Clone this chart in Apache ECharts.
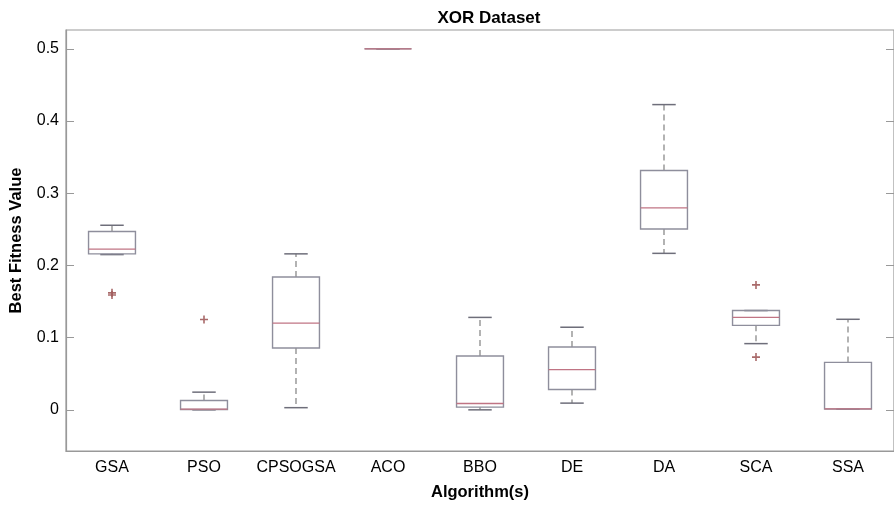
<!DOCTYPE html>
<html>
<head>
<meta charset="utf-8">
<script src="https://cdn.jsdelivr.net/npm/echarts@6/dist/echarts.min.js"></script>
<style>html,body{margin:0;padding:0;background:#fff;}#main{width:894px;height:506px;}</style>
</head>
<body>
<div id="main"></div>
<script>
const categories = ['GSA', 'PSO', 'CPSOGSA', 'ACO', 'BBO', 'DE', 'DA', 'SCA', 'SSA'];
const whiskerLow  = [0.215, 0.0,    0.003,  0.5, 0.0,    0.0093, 0.2167, 0.0917, 0.001];
const q1          = [0.216, 0.0005, 0.0856, 0.5, 0.0037, 0.0282, 0.2505, 0.117,  0.0012];
const median      = [0.2225,0.001,  0.12,   0.5, 0.0088, 0.0556, 0.2796, 0.128,  0.0013];
const q3          = [0.247, 0.013,  0.184,  0.5, 0.0745, 0.087,  0.3315, 0.1375, 0.0657];
const whiskerHigh = [0.2556,0.0245, 0.216,  0.5, 0.128,  0.1144, 0.4227, 0.1375, 0.1254];
const outliers = [[0, 0.159], [0, 0.162], [1, 0.125], [7, 0.173], [7, 0.073]];
const yTicks = [0, 0.1, 0.2, 0.3, 0.4, 0.5];

const boxData = categories.map((c, i) => [i, whiskerLow[i], q1[i], median[i], q3[i], whiskerHigh[i]]);

const BOX = '#8e8e9c';
const MED = '#c07484';
const WHISK = '#8a8a8a';
const CAP = '#6e6e7a';
const OUT = '#a05a5a';
const FONT = '"Liberation Sans", Arial, sans-serif';

const chart = echarts.init(document.getElementById('main'));
chart.setOption({
  animation: false,
  backgroundColor: '#fff',
  title: {
    text: 'XOR Dataset',
    left: 484, top: 5, textAlign: 'center',
    textStyle: { fontFamily: FONT, fontSize: 17, fontWeight: 'bold', color: '#000' }
  },
  grid: { left: 66, top: 30, right: -7, bottom: 55, show: true, borderColor: '#999', borderWidth: 1.2 },
  xAxis: {
    type: 'category', data: categories,
    axisLine: { onZero: false, lineStyle: { color: '#999', width: 1.2 } },
    axisTick: { show: false },
    axisLabel: { color: '#000', fontFamily: FONT, fontSize: 16, margin: 9, interval: 0 },
    name: 'Algorithm(s)', nameLocation: 'middle', nameGap: 33,
    nameTextStyle: { color: '#000', fontFamily: FONT, fontSize: 16.5, fontWeight: 'bold' }
  },
  yAxis: [{
    type: 'value', min: -0.057, max: 0.526,
    axisLine: { show: true, lineStyle: { color: '#999', width: 1.2 } },
    axisTick: { show: true, inside: true, length: 8, lineStyle: { color: '#999' }, customValues: yTicks },
    axisLabel: { color: '#000', fontFamily: FONT, fontSize: 16, margin: 7, customValues: yTicks },
    splitLine: { show: false },
    name: 'Best Fitness Value', nameLocation: 'middle', nameGap: 41,
    nameTextStyle: { color: '#000', fontFamily: FONT, fontSize: 16.5, fontWeight: 'bold' }
  }, {
    type: 'value', min: -0.057, max: 0.526, position: 'right',
    axisLine: { show: true, lineStyle: { color: '#999' } },
    axisTick: { show: true, inside: true, length: 8, lineStyle: { color: '#999' }, customValues: yTicks },
    axisLabel: { show: false },
    splitLine: { show: false }
  }],
  series: [{
    type: 'custom',
    data: boxData,
    encode: { x: 0, y: [1, 2, 3, 4, 5] },
    renderItem: function (params, api) {
      const idx = api.value(0);
      const pLow = api.coord([idx, api.value(1)]);
      const pQ1 = api.coord([idx, api.value(2)]);
      const pMed = api.coord([idx, api.value(3)]);
      const pQ3 = api.coord([idx, api.value(4)]);
      const pHigh = api.coord([idx, api.value(5)]);
      const band = api.size([1, 0])[0];
      const hw = band * 0.255;
      const cw = hw * 0.5;
      const cx = pMed[0];
      const children = [];
      if (pQ3[1] - pHigh[1] > 0.5) {
        children.push({ type: 'line', shape: { x1: cx, y1: pQ3[1], x2: cx, y2: pHigh[1] },
          style: { stroke: WHISK, lineWidth: 1.3, lineDash: [6, 4] } });
      }
      if (pLow[1] - pQ1[1] > 0.5) {
        children.push({ type: 'line', shape: { x1: cx, y1: pQ1[1], x2: cx, y2: pLow[1] },
          style: { stroke: WHISK, lineWidth: 1.3, lineDash: [6, 4] } });
      }
      children.push({ type: 'line', shape: { x1: cx - cw, y1: pHigh[1], x2: cx + cw, y2: pHigh[1] },
        style: { stroke: CAP, lineWidth: 1.5 } });
      children.push({ type: 'line', shape: { x1: cx - cw, y1: pLow[1], x2: cx + cw, y2: pLow[1] },
        style: { stroke: CAP, lineWidth: 1.5 } });
      children.push({ type: 'rect', shape: { x: cx - hw, y: pQ3[1], width: hw * 2, height: pQ1[1] - pQ3[1] },
        style: { fill: 'none', stroke: BOX, lineWidth: 1.4 } });
      children.push({ type: 'line', shape: { x1: cx - hw, y1: pMed[1], x2: cx + hw, y2: pMed[1] },
        style: { stroke: MED, lineWidth: 1.3 } });
      return { type: 'group', children: children };
    },
    z: 2
  }, {
    type: 'scatter',
    data: outliers,
    symbol: 'path://M4,0H6V4H10V6H6V10H4V6H0V4H4Z',
    symbolSize: 8,
    itemStyle: { color: OUT, opacity: 0.9 },
    z: 3
  }]
});
</script>
</body>
</html>
